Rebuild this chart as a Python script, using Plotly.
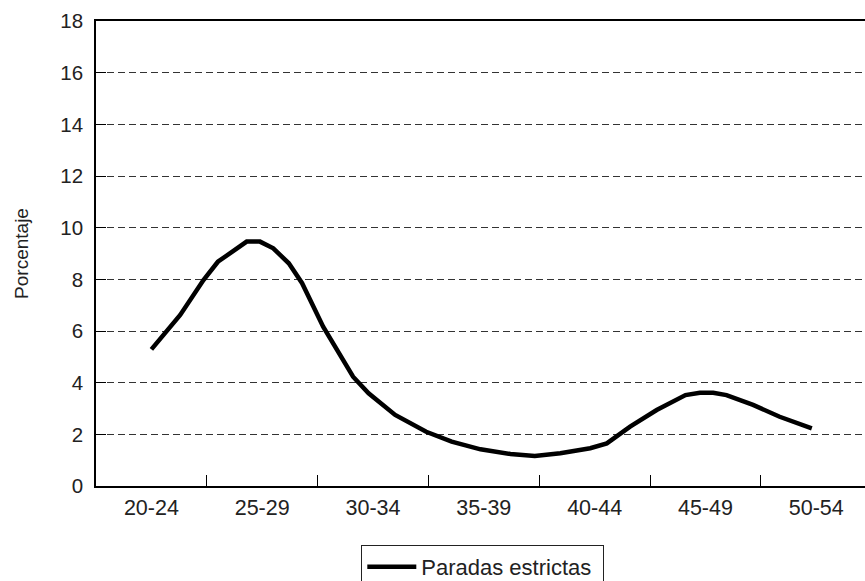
import plotly.graph_objects as go

# Age groups (category labels) and their centre ages
categories = ["20-24", "25-29", "30-34", "35-39", "40-44", "45-49", "50-54"]
category_centres = [22.5, 27.5, 32.5, 37.5, 42.5, 47.5, 52.5]
category_bounds = [25, 30, 35, 40, 45, 50]

# Smoothed curve: age (years) and percentage
ages = [22.5, 23.8, 24.85, 25.5, 26.8, 27.4, 28.0, 28.7, 29.3, 30.25, 31.6,
        32.3, 33.5, 34.9, 36.05, 37.35, 38.7, 39.8, 40.95, 42.3, 43.05,
        44.1, 45.3, 46.6, 47.25, 47.85, 48.45, 49.65, 50.85, 52.3]
percent = [5.29, 6.62, 7.97, 8.68, 9.46, 9.46, 9.20, 8.62, 7.85, 6.17, 4.23,
           3.59, 2.75, 2.10, 1.72, 1.42, 1.24, 1.16, 1.27, 1.46, 1.65,
           2.30, 2.94, 3.52, 3.61, 3.61, 3.52, 3.14, 2.68, 2.23]

series_name = "Paradas estrictas"
y_title = "Porcentaje"

FONT = "Liberation Sans"
TXT = "#222222"

fig = go.Figure()
fig.add_trace(go.Scatter(
    x=ages, y=percent, mode="lines", name=series_name + "\u00a0",
    line=dict(color="black", width=4.5),
    showlegend=True,
))

fig.update_layout(
    width=865, height=581,
    margin=dict(l=96, r=0, t=21, b=95, autoexpand=False),
    paper_bgcolor="white", plot_bgcolor="white",
    font=dict(family=FONT, size=21, color=TXT),
    showlegend=True,
    legend=dict(
        orientation="h", x=0.503, xanchor="center", y=-0.127, yanchor="top",
        bordercolor="#222222", borderwidth=1, bgcolor="white",
        font=dict(family=FONT, size=22, color=TXT),
        itemwidth=49,
    ),
    xaxis=dict(
        range=[20, 54.7], automargin=False,
        tickmode="array", tickvals=category_centres, ticktext=categories,
        ticks="", showgrid=False, zeroline=False,
        showline=True, linecolor="black", linewidth=1.5, mirror=True,
        tickfont=dict(family=FONT, size=21.5, color=TXT),
        ticklabelstandoff=1,
        minor=dict(tickmode="array", tickvals=category_bounds, ticks="inside",
                   ticklen=11, tickcolor="black", tickwidth=1.2, showgrid=False),
    ),
    yaxis=dict(
        range=[0, 18], tickmode="linear", tick0=0, dtick=2, automargin=False,
        ticks="inside", ticklen=10, tickcolor="black", tickwidth=1.2,
        showgrid=True, gridcolor="#333333", gridwidth=1, griddash="7px,4px",
        zeroline=False,
        showline=True, linecolor="black", linewidth=1.5,
        tickfont=dict(family=FONT, size=20.5, color=TXT),
        ticklabelstandoff=7,
        title=dict(text=y_title, font=dict(family=FONT, size=19, color=TXT),
                   standoff=27),
    ),
)

fig.write_html("out.html", config={"displayModeBar": False},
               post_script="document.body.style.margin='0px';")
